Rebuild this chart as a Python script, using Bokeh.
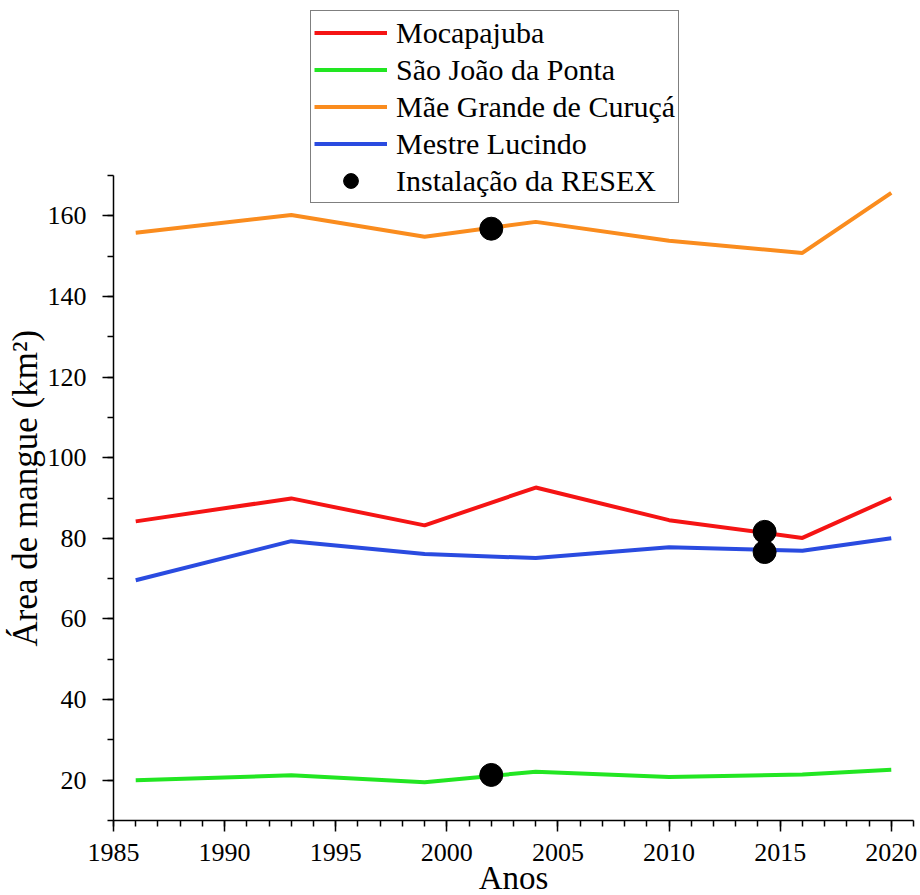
from bokeh.plotting import figure
from bokeh.models import Range1d, SingleIntervalTicker, Title
from bokeh.embed import file_html
from bokeh.resources import INLINE

years = [1986, 1993, 1999, 2004, 2010, 2016, 2020]
mocapajuba = [84.2, 89.9, 83.2, 92.6, 84.5, 80.1, 90.0]
sao_joao = [20.0, 21.2, 19.5, 22.1, 20.8, 21.4, 22.6]
mae_grande = [155.8, 160.2, 154.8, 158.5, 153.8, 150.8, 165.7]
mestre_lucindo = [69.6, 79.3, 76.1, 75.1, 77.8, 76.9, 80.0]

resex_x = [2002, 2002, 2014.3, 2014.3]
resex_y = [156.8, 21.3, 81.6, 76.6]

series = [
    ("Mocapajuba", mocapajuba, "#F51414"),
    ("São João da Ponta", sao_joao, "#22E622"),
    ("Mãe Grande de Curuçá", mae_grande, "#FA8C1E"),
    ("Mestre Lucindo", mestre_lucindo, "#2A4BE0"),
]

FONT = "Liberation Serif"

Y_MIN, Y_MAX = 10, 170
FRAME_H = 815
PLOT_H = 645  # pixels spanned by the visible axis (10..170)
y_top = Y_MIN + FRAME_H * (Y_MAX - Y_MIN) / PLOT_H  # room above for legend

p = figure(frame_width=800, frame_height=FRAME_H,
           x_range=Range1d(1985, 2021), y_range=Range1d(Y_MIN, y_top),
           output_backend="svg", toolbar_location=None,
           min_border_left=113, min_border_top=5, min_border_right=5,
           min_border_bottom=70)

for name, vals, col in series:
    p.line(years, vals, line_color=col, line_width=4, legend_label=name)

p.scatter(resex_x, resex_y, size=23, marker="circle", fill_color="black",
          line_color="black", legend_label="Instalação da RESEX")

p.xgrid.visible = False
p.ygrid.visible = False
p.outline_line_color = None

p.xaxis.ticker = SingleIntervalTicker(interval=5, num_minor_ticks=5)
p.yaxis.ticker = SingleIntervalTicker(interval=20, num_minor_ticks=2)
p.yaxis.bounds = (Y_MIN, Y_MAX)

for ax in (p.xaxis, p.yaxis):
    ax.axis_line_width = 1.5
    ax.axis_line_color = "black"
    ax.major_tick_line_width = 1.5
    ax.minor_tick_line_width = 1.5
    ax.major_tick_line_color = "black"
    ax.minor_tick_line_color = "black"
    ax.major_tick_out = 11
    ax.major_tick_in = 0
    ax.minor_tick_out = 6
    ax.minor_tick_in = 0
    ax.major_label_text_font = FONT
    ax.major_label_text_font_size = "26px"
    ax.major_label_text_color = "black"
    ax.axis_label_text_font = FONT
    ax.axis_label_text_font_style = "normal"
    ax.axis_label_text_font_size = "33px"
    ax.axis_label_text_color = "black"

p.xaxis.axis_label = "Anos"
p.xaxis.major_label_standoff = 12
p.xaxis.axis_label_standoff = -4
p.yaxis.major_label_standoff = 16

# y-axis label starting near the bottom of the visible axis part
ylab = Title(text="Área de mangue (km²)", align="left", offset=174,
             text_font=FONT, text_font_size="35px", text_font_style="normal",
             text_color="black", standoff=0)
p.add_layout(ylab, "left")

lg = p.legend[0]
lg.location = (197, FRAME_H - 198)
lg.label_text_font = FONT
lg.label_text_font_size = "30px"
lg.label_text_color = "black"
lg.glyph_width = 73
lg.glyph_height = 37
lg.label_height = 37
lg.label_standoff = 9
lg.spacing = 0
lg.padding = 3
lg.margin = 0
lg.border_line_color = "black"
lg.border_line_width = 1
lg.background_fill_alpha = 1.0

open("out.html", "w").write(file_html(p, INLINE))
